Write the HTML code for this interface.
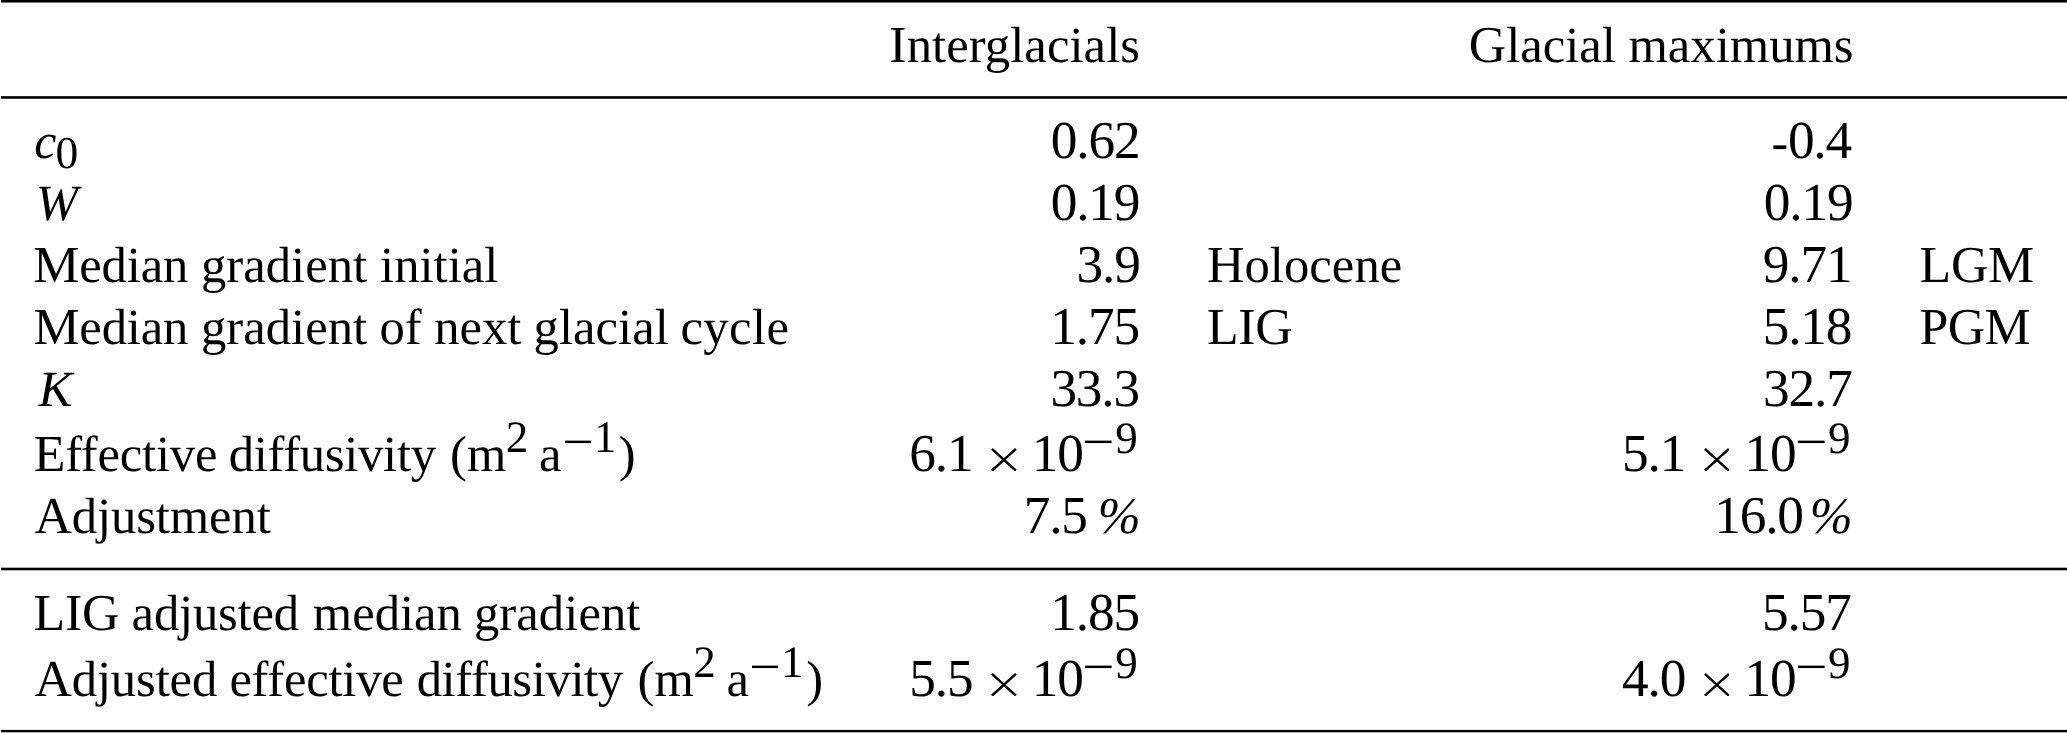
<!DOCTYPE html>
<html>
<head>
<meta charset="utf-8">
<title>Table</title>
<style>
html,body{margin:0;padding:0;background:#fff;}
body{width:2067px;height:733px;position:relative;overflow:hidden;
 font-family:"Liberation Serif",serif;font-size:50.65px;color:#000;text-rendering:geometricPrecision;}
.rules{position:absolute;left:0;top:0;}
.t{position:absolute;white-space:nowrap;line-height:62.0px;height:62.0px;transform:translateZ(0);}
.n{font-size:53.3px;letter-spacing:-1.15px;line-height:0;}
i{font-style:italic;}
.cp{font-size:51.8px;line-height:0;}
.pc{font-size:51.5px;line-height:0;}
.sup{font-size:45.0px;line-height:0;position:relative;top:-19.0px;letter-spacing:0;}
.sub{font-size:45.5px;line-height:0;position:relative;top:10.1px;margin-left:-0.8px;}
.hy{font-size:50px;position:relative;top:1.0px;letter-spacing:0;margin-right:-0.4px;}
svg.x{display:inline-block;vertical-align:baseline;position:relative;top:0.2px;}
svg.m{display:inline-block;vertical-align:baseline;position:relative;top:-8.09px;}
.g{display:inline-block;height:1px;}
.s9{position:relative;top:1px;}
</style>
</head>
<body>
<svg class="rules" width="2067" height="733" viewBox="0 0 2067 733"><rect x="1" y="0" width="2066" height="2.55" fill="#000"/><rect x="1" y="96.15" width="2066" height="2.60" fill="#000"/><rect x="1" y="567.7" width="2066" height="2.60" fill="#000"/><rect x="1" y="729.9" width="2066" height="2.40" fill="#000"/></svg>
<div class="t" style="top:14.00px;left:889.33px;letter-spacing:0.080px;"><span class="cp">I</span>nterglacials</div>
<div class="t" style="top:14.00px;left:1468.74px;letter-spacing:0.003px;"><span class="cp">G</span>lacial maximums</div>
<div class="t" style="top:110.00px;left:34.21px;"><i style="font-size:49.8px;line-height:0">c</i><span class="sub">0</span></div>
<div class="t" style="top:110.00px;left:1050.80px;"><span class="n">0.62</span></div>
<div class="t" style="top:110.00px;left:1771.62px;"><span class="n"><span class="hy">-</span>0.4</span></div>
<div class="t" style="top:172.00px;left:35.63px;"><i>W</i></div>
<div class="t" style="top:172.00px;left:1050.69px;"><span class="n">0.19</span></div>
<div class="t" style="top:172.00px;left:1763.79px;"><span class="n">0.19</span></div>
<div class="t" style="top:234.00px;left:33.33px;letter-spacing:-0.135px;"><span class="cp">M</span>edian</div>
<div class="t" style="top:234.00px;left:200.93px;letter-spacing:0.038px;">gradient</div>
<div class="t" style="top:234.00px;left:380.12px;">initial</div>
<div class="t" style="top:234.00px;left:1076.61px;"><span class="n">3.9</span></div>
<div class="t" style="top:234.00px;left:1206.99px;letter-spacing:0.056px;"><span class="cp">H</span>olocene</div>
<div class="t" style="top:234.00px;left:1762.73px;"><span class="n">9.71</span></div>
<div class="t" style="top:234.00px;left:1919.49px;letter-spacing:-0.206px;"><span class="cp">LGM</span></div>
<div class="t" style="top:296.00px;left:33.39px;letter-spacing:-0.147px;"><span class="cp">M</span>edian</div>
<div class="t" style="top:296.00px;left:200.93px;letter-spacing:0.038px;">gradient</div>
<div class="t" style="top:296.00px;left:379.45px;">of</div>
<div class="t" style="top:296.00px;left:434.32px;letter-spacing:-0.090px;">next</div>
<div class="t" style="top:296.00px;left:533.53px;letter-spacing:0.052px;">glacial</div>
<div class="t" style="top:296.00px;left:680.45px;letter-spacing:0.411px;">cycle</div>
<div class="t" style="top:296.00px;left:1050.22px;"><span class="n">1.75</span></div>
<div class="t" style="top:296.00px;left:1206.99px;letter-spacing:-0.316px;"><span class="cp">LIG</span></div>
<div class="t" style="top:296.00px;left:1762.67px;"><span class="n">5.18</span></div>
<div class="t" style="top:296.00px;left:1919.49px;letter-spacing:-0.625px;"><span class="cp">PGM</span></div>
<div class="t" style="top:358.00px;left:38.46px;"><i>K</i></div>
<div class="t" style="top:358.00px;left:1050.39px;"><span class="n">33.3</span></div>
<div class="t" style="top:358.00px;left:1763.03px;"><span class="n">32.7</span></div>
<div class="t" style="top:423.00px;left:33.69px;letter-spacing:-0.207px;"><span class="cp">E</span>ffective</div>
<div class="t" style="top:423.00px;left:228.66px;letter-spacing:-0.272px;">diffusivity</div>
<div class="t" style="top:423.00px;left:450.10px;">(m<span class="sup" style="margin-left:-0.6px">2</span><span class="g" style="width:10.7px"></span>a<span class="sup"><span class="g" style="width:3.4px"></span><svg class="m" width="28" height="6" viewBox="0 0 28 6" style="margin-right:-1.80px"><rect x="0" y="2.625" width="26.2" height="2.45" fill="#000"/></svg><span class="g" style="width:2.6px"></span>1</span><span class="g" style="width:2.6px"></span>)</div>
<div class="t" style="top:423.00px;left:909.23px;"><span class="n">6.1</span><span class="g" style="width:18.5px"></span><svg class="x" width="25.8" height="23.6" viewBox="0 0 25.8 23.6"><path d="M0.88 0.88L24.92 22.72M24.92 0.88L0.88 22.72" stroke="#000" stroke-width="2.45" fill="none"/></svg><span class="g" style="width:15px"></span><span class="n">10</span><span class="sup"><span class="g" style="width:2.4px"></span><svg class="m" width="28" height="6" viewBox="0 0 28 6" style="margin-right:-1.40px"><rect x="0" y="2.625" width="26.6" height="2.45" fill="#000"/></svg><span class="g" style="width:3.6px"></span><span class="s9">9</span></span></div>
<div class="t" style="top:423.00px;left:1621.98px;"><span class="n">5.1</span><span class="g" style="width:18.5px"></span><svg class="x" width="25.8" height="23.6" viewBox="0 0 25.8 23.6"><path d="M0.88 0.88L24.92 22.72M24.92 0.88L0.88 22.72" stroke="#000" stroke-width="2.45" fill="none"/></svg><span class="g" style="width:15px"></span><span class="n">10</span><span class="sup"><span class="g" style="width:2.4px"></span><svg class="m" width="28" height="6" viewBox="0 0 28 6" style="margin-right:-1.40px"><rect x="0" y="2.625" width="26.6" height="2.45" fill="#000"/></svg><span class="g" style="width:3.6px"></span><span class="s9">9</span></span></div>
<div class="t" style="top:485.00px;left:34.45px;letter-spacing:-0.088px;"><span class="cp">A</span>djustment</div>
<div class="t" style="top:485.00px;left:1023.67px;"><span class="n">7.5</span></div>
<div class="t" style="top:485.00px;left:1097.75px;"><i class="pc">%</i></div>
<div class="t" style="top:485.00px;left:1714.21px;"><span class="n">16.0</span></div>
<div class="t" style="top:485.00px;left:1809.75px;"><i class="pc">%</i></div>
<div class="t" style="top:582.00px;left:33.59px;letter-spacing:-0.216px;"><span class="cp">LIG</span></div>
<div class="t" style="top:582.00px;left:131.59px;letter-spacing:-0.170px;">adjusted</div>
<div class="t" style="top:582.00px;left:312.82px;letter-spacing:-0.003px;">median</div>
<div class="t" style="top:582.00px;left:473.93px;letter-spacing:0.081px;">gradient</div>
<div class="t" style="top:582.00px;left:1050.32px;"><span class="n">1.85</span></div>
<div class="t" style="top:582.00px;left:1762.10px;"><span class="n">5.57</span></div>
<div class="t" style="top:648.00px;left:34.45px;letter-spacing:-0.127px;"><span class="cp">A</span>djusted</div>
<div class="t" style="top:648.00px;left:229.39px;letter-spacing:-0.232px;">effective</div>
<div class="t" style="top:648.00px;left:416.66px;letter-spacing:-0.362px;">diffusivity</div>
<div class="t" style="top:648.00px;left:637.55px;">(m<span class="sup" style="margin-left:-0.6px">2</span><span class="g" style="width:10.7px"></span>a<span class="sup"><span class="g" style="width:3.4px"></span><svg class="m" width="28" height="6" viewBox="0 0 28 6" style="margin-right:-1.80px"><rect x="0" y="2.625" width="26.2" height="2.45" fill="#000"/></svg><span class="g" style="width:2.6px"></span>1</span><span class="g" style="width:2.6px"></span>)</div>
<div class="t" style="top:648.00px;left:909.23px;"><span class="n">5.5</span><span class="g" style="width:18.5px"></span><svg class="x" width="25.8" height="23.6" viewBox="0 0 25.8 23.6"><path d="M0.88 0.88L24.92 22.72M24.92 0.88L0.88 22.72" stroke="#000" stroke-width="2.45" fill="none"/></svg><span class="g" style="width:15px"></span><span class="n">10</span><span class="sup"><span class="g" style="width:2.4px"></span><svg class="m" width="28" height="6" viewBox="0 0 28 6" style="margin-right:-1.40px"><rect x="0" y="2.625" width="26.6" height="2.45" fill="#000"/></svg><span class="g" style="width:3.6px"></span><span class="s9">9</span></span></div>
<div class="t" style="top:648.00px;left:1621.98px;"><span class="n">4.0</span><span class="g" style="width:18.5px"></span><svg class="x" width="25.8" height="23.6" viewBox="0 0 25.8 23.6"><path d="M0.88 0.88L24.92 22.72M24.92 0.88L0.88 22.72" stroke="#000" stroke-width="2.45" fill="none"/></svg><span class="g" style="width:15px"></span><span class="n">10</span><span class="sup"><span class="g" style="width:2.4px"></span><svg class="m" width="28" height="6" viewBox="0 0 28 6" style="margin-right:-1.40px"><rect x="0" y="2.625" width="26.6" height="2.45" fill="#000"/></svg><span class="g" style="width:3.6px"></span><span class="s9">9</span></span></div>
</body>
</html>
